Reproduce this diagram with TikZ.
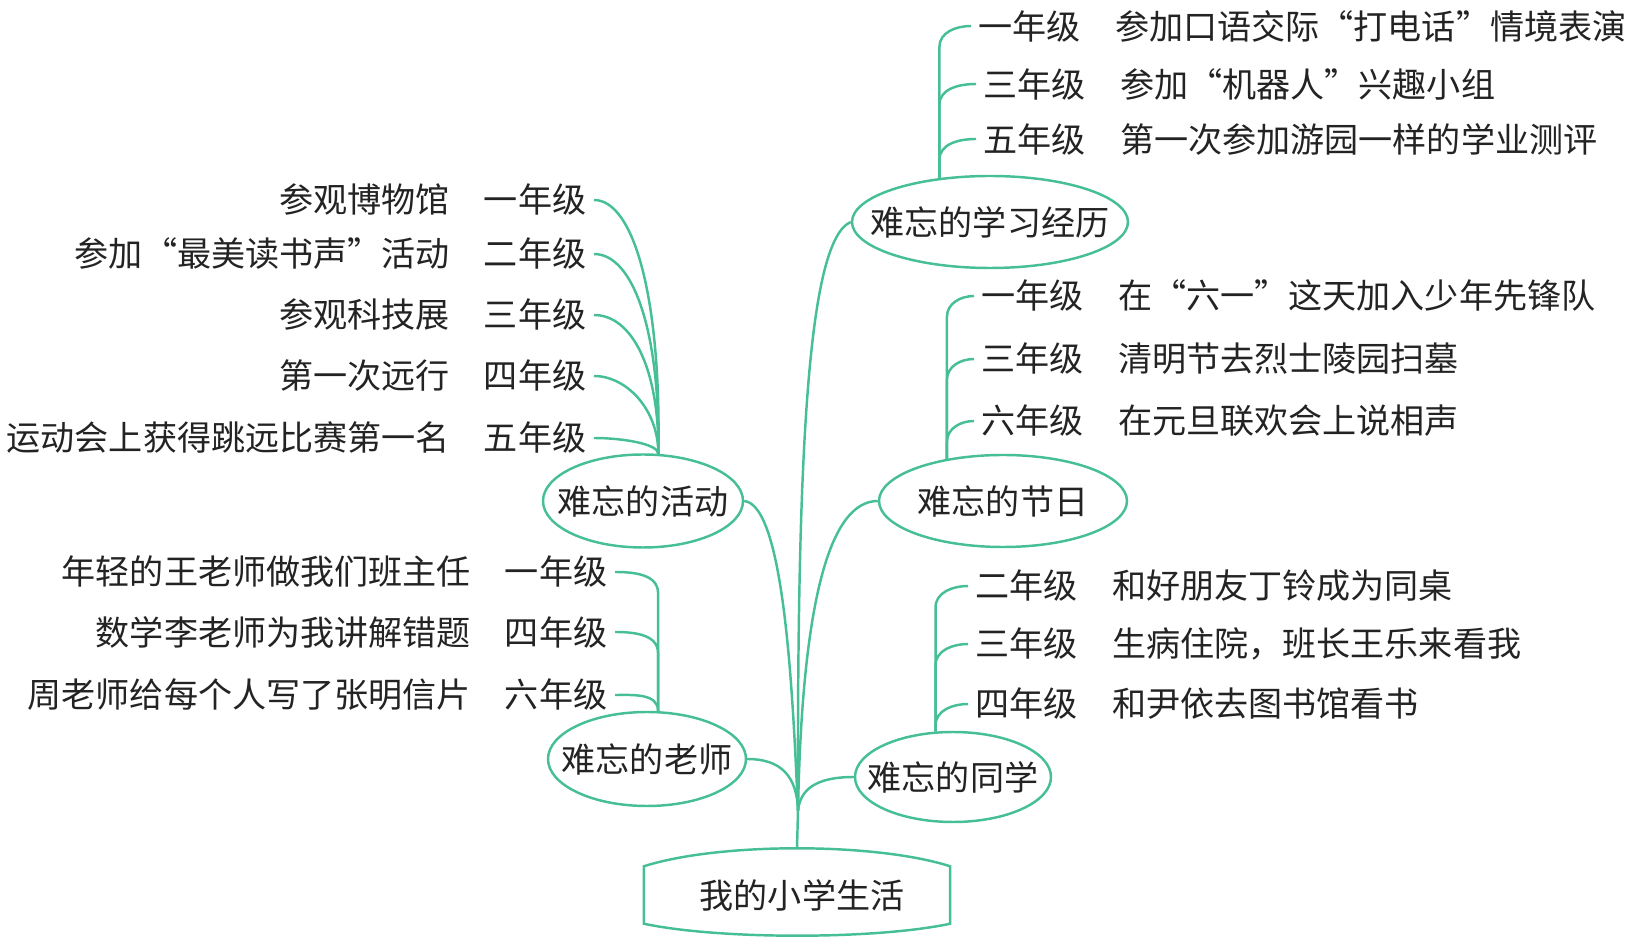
\documentclass[tikz,border=0pt]{standalone}
\usepackage{fontspec}
\setmainfont{Noto Sans CJK SC}[CharacterWidth=Full]
\usetikzlibrary{shapes.geometric, calc}
\definecolor{mapgreen}{RGB}{70,190,150}
\definecolor{inkgray}{RGB}{35,35,35}

\begin{document}
\begin{tikzpicture}[x=0.1mm, y=-0.1mm,
  link/.style={draw=mapgreen, line width=0.7pt},
  topic/.style={ellipse, draw=mapgreen, line width=0.7pt, inner sep=0pt, font=\fontsize{9.7}{11}\selectfont, text=inkgray},
  item/.style={inner sep=2pt, font=\fontsize{9.7}{11}\selectfont, text=inkgray}
]
  \useasboundingbox (0,0) rectangle (1652,938);

  % root
  \node[item, minimum width=30.5mm, minimum height=5.6mm] (root) at (797,895) {\hspace{1mm}我的小学生活};
  \draw[link] (root.north west) .. controls +(75,-24) and +(-75,-24) .. (root.north east)
    -- (root.south east) .. controls +(-75,16) and +(75,16) .. (root.south west) -- cycle;
  \coordinate (rtop) at ($(root.north)+(0,-18)$);
  \coordinate (fork) at (798,811);
  \draw[link] (rtop) -- (fork);

  % topics
  \node[topic, minimum width=27.6mm, minimum height=9.2mm] (study) at (990,222) {\makebox[0pt]{难忘的学习经历}};
  \node[topic, minimum width=20mm, minimum height=9.3mm] (event) at (643,501) {\makebox[0pt]{难忘的活动}};
  \node[topic, minimum width=24.8mm, minimum height=9.2mm] (fest) at (1003,501) {\makebox[0pt]{难忘的节日}};
  \node[topic, minimum width=19.8mm, minimum height=9.4mm] (teach) at (647,759) {\makebox[0pt]{难忘的老师}};
  \node[topic, minimum width=19.6mm, minimum height=9mm] (mate) at (953,777) {\makebox[0pt]{难忘的同学}};

  \draw[link] (fork) .. controls (797,450) and (808,240) .. (study.west);
  \draw[link] (event.east) .. controls (785,505) and (793,700) .. (fork);
  \draw[link] (fest.west) .. controls (830,501) and (802,600) .. (fork);
  \draw[link] (teach.east) .. controls (780,759) and (797,775) .. (fork);
  \draw[link] (mate.west) .. controls (815,777) and (800,790) .. (fork);

  % study
  \node[item, anchor=west] (s1) at (971,26) {一年级\quad 参加口语交际“打电话”情境表演};
  \node[item, anchor=west] (s2) at (976,84) {三年级\quad 参加“机器人”兴趣小组};
  \node[item, anchor=west] (s3) at (976,139) {五年级\quad 第一次参加游园一样的学业测评};
  \coordinate (sb) at (study.139);
  \draw[link] (sb) -- ++(0,-131) to[out=90,in=180] (s1.west);
  \draw[link] (sb) -- ++(0,-73) to[out=90,in=180] (s2.west);
  \draw[link] (sb) -- ++(0,-18) to[out=90,in=180] (s3.west);

  % festivals
  \node[item, anchor=west] (f1) at (974,296) {一年级\quad 在“六一”这天加入少年先锋队};
  \node[item, anchor=west] (f2) at (974,359) {三年级\quad 清明节去烈士陵园扫墓};
  \node[item, anchor=west] (f3) at (974,421) {六年级\quad 在元旦联欢会上说相声};
  \coordinate (fb) at (fest.143);
  \draw[link] (fb) -- ++(0,-142) to[out=90,in=180] (f1.west);
  \draw[link] (fb) -- ++(0,-79) to[out=90,in=180] (f2.west);
  \draw[link] (fb) -- ++(0,-17) to[out=90,in=180] (f3.west);

  % classmates
  \node[item, anchor=west] (m1) at (968,586) {二年级\quad 和好朋友丁铃成为同桌};
  \node[item, anchor=west] (m2) at (968,644) {三年级\quad 生病住院，班长王乐来看我};
  \node[item, anchor=west] (m3) at (968,704) {四年级\quad 和尹依去图书馆看书};
  \coordinate (mb) at (mate.111);
  \draw[link] (mb) -- ++(0,-124) to[out=90,in=180] (m1.west);
  \draw[link] (mb) -- ++(0,-66) to[out=90,in=180] (m2.west);
  \draw[link] (mb) -- ++(0,-6) to[out=90,in=180] (m3.west);

  % teachers
  \node[item, anchor=east] (t1) at (615,572) {年轻的王老师做我们班主任\quad 一年级};
  \node[item, anchor=east] (t2) at (615,632) {数学李老师为我讲解错题\quad 四年级};
  \node[item, anchor=east] (t3) at (615,695) {周老师给每个人写了张明信片\quad 六年级};
  \coordinate (tb) at (teach.77);
  \draw[link] (tb) -- ++(0,-118) to[out=90,in=0] (t1.east);
  \draw[link] (tb) -- ++(0,-58) to[out=90,in=0] (t2.east);
  \draw[link] (tb) to[out=90,in=0] (t3.east);

  % activities
  \node[item, anchor=east] (a1) at (594,200) {参观博物馆\quad 一年级};
  \node[item, anchor=east] (a2) at (594,254) {参加“最美读书声”活动\quad 二年级};
  \node[item, anchor=east] (a3) at (594,315) {参观科技展\quad 三年级};
  \node[item, anchor=east] (a4) at (594,376) {第一次远行\quad 四年级};
  \node[item, anchor=east] (a5) at (594,438) {运动会上获得跳远比赛第一名\quad 五年级};
  \coordinate (ab) at (event.72);
  \draw[link] (a1.east) .. controls +(40,0) and +(3,-155) .. (ab);
  \draw[link] (a2.east) .. controls +(40,0) and +(2,-120) .. (ab);
  \draw[link] (a3.east) .. controls +(38,0) and +(1,-85) .. (ab);
  \draw[link] (a4.east) .. controls +(32,0) and +(0,-45) .. (ab);
  \draw[link] (a5.east) .. controls +(28,0) and +(0,-10) .. (ab);
\end{tikzpicture}
\end{document}
